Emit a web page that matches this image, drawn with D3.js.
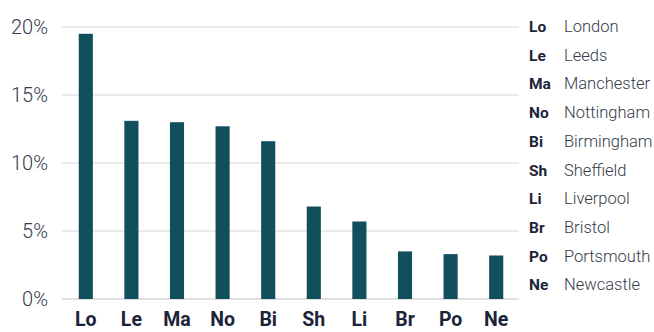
<!DOCTYPE html>
<html>
<head>
<meta charset="utf-8">
<script src="https://cdn.jsdelivr.net/npm/d3@7"></script>
<style>
  body { margin: 0; background: #fff; }
  svg { display: block; font-family: Roboto, sans-serif; }
</style>
</head>
<body>
<svg id="chart"></svg>
<script>
const codes = ["Lo", "Le", "Ma", "No", "Bi", "Sh", "Li", "Br", "Po", "Ne"];
const cities = ["London", "Leeds", "Manchester", "Nottingham", "Birmingham", "Sheffield", "Liverpool", "Bristol", "Portsmouth", "Newcastle"];
const shares = [19.5, 13.1, 13.0, 12.7, 11.6, 6.8, 5.7, 3.5, 3.3, 3.2];
const yTicks = [0, 5, 10, 15, 20];

const width = 654, height = 332;
const margin = { top: 27, right: 135, bottom: 33, left: 63 };
const innerW = width - margin.left - margin.right;
const innerH = height - margin.top - margin.bottom;

const svg = d3.select("#chart").attr("width", width).attr("height", height);
const g = svg.append("g").attr("transform", `translate(${margin.left},${margin.top})`);

const x = d3.scaleBand().domain(codes).range([0, innerW]).paddingInner(0.69).paddingOuter(0.345);
const y = d3.scaleLinear().domain([0, 20]).range([innerH, 0]);

// gridlines
g.selectAll("line.grid")
  .data(yTicks)
  .join("line")
  .attr("class", "grid")
  .attr("x1", -1).attr("x2", innerW)
  .attr("y1", d => y(d)).attr("y2", d => y(d))
  .attr("stroke", d => d === 0 ? "#d6d6d6" : "#e3e3e3")
  .attr("stroke-width", 1.5);

// y labels
const yAxis = d3.axisLeft(y).tickValues(yTicks).tickFormat(d => d + "%").tickSize(0).tickPadding(15);
const yg = g.append("g").call(yAxis);
yg.select(".domain").remove();
yg.selectAll("text")
  .attr("font-size", 20).attr("font-weight", 300).attr("fill", "#333b4a")
  .attr("font-family", "Roboto, sans-serif");

// bars
g.selectAll("rect.bar")
  .data(shares)
  .join("rect")
  .attr("class", "bar")
  .attr("x", (d, i) => x(codes[i]))
  .attr("y", d => y(d))
  .attr("width", x.bandwidth())
  .attr("height", d => innerH - y(d))
  .attr("fill", "#124f5d");

// x labels
const xAxis = d3.axisBottom(x).tickSize(0).tickPadding(13.5);
const xg = g.append("g").attr("transform", `translate(0,${innerH})`).call(xAxis);
xg.select(".domain").remove();
xg.selectAll("text")
  .attr("font-size", 19.5).attr("font-weight", 700).attr("fill", "#1b2438")
  .attr("font-family", "Roboto, sans-serif");

// legend
const legend = svg.append("g").attr("transform", "translate(529,32)");
const rows = legend.selectAll("g")
  .data(codes)
  .join("g")
  .attr("transform", (d, i) => `translate(0,${i * 28.7})`);
rows.append("text")
  .attr("font-size", 15.5).attr("font-weight", 700).attr("fill", "#1b2438")
  .text(d => d);
rows.append("text")
  .attr("x", 35)
  .attr("font-size", 16.5).attr("font-weight", 300).attr("fill", "#333b4a")
  .text((d, i) => cities[i]);
</script>
</body>
</html>
